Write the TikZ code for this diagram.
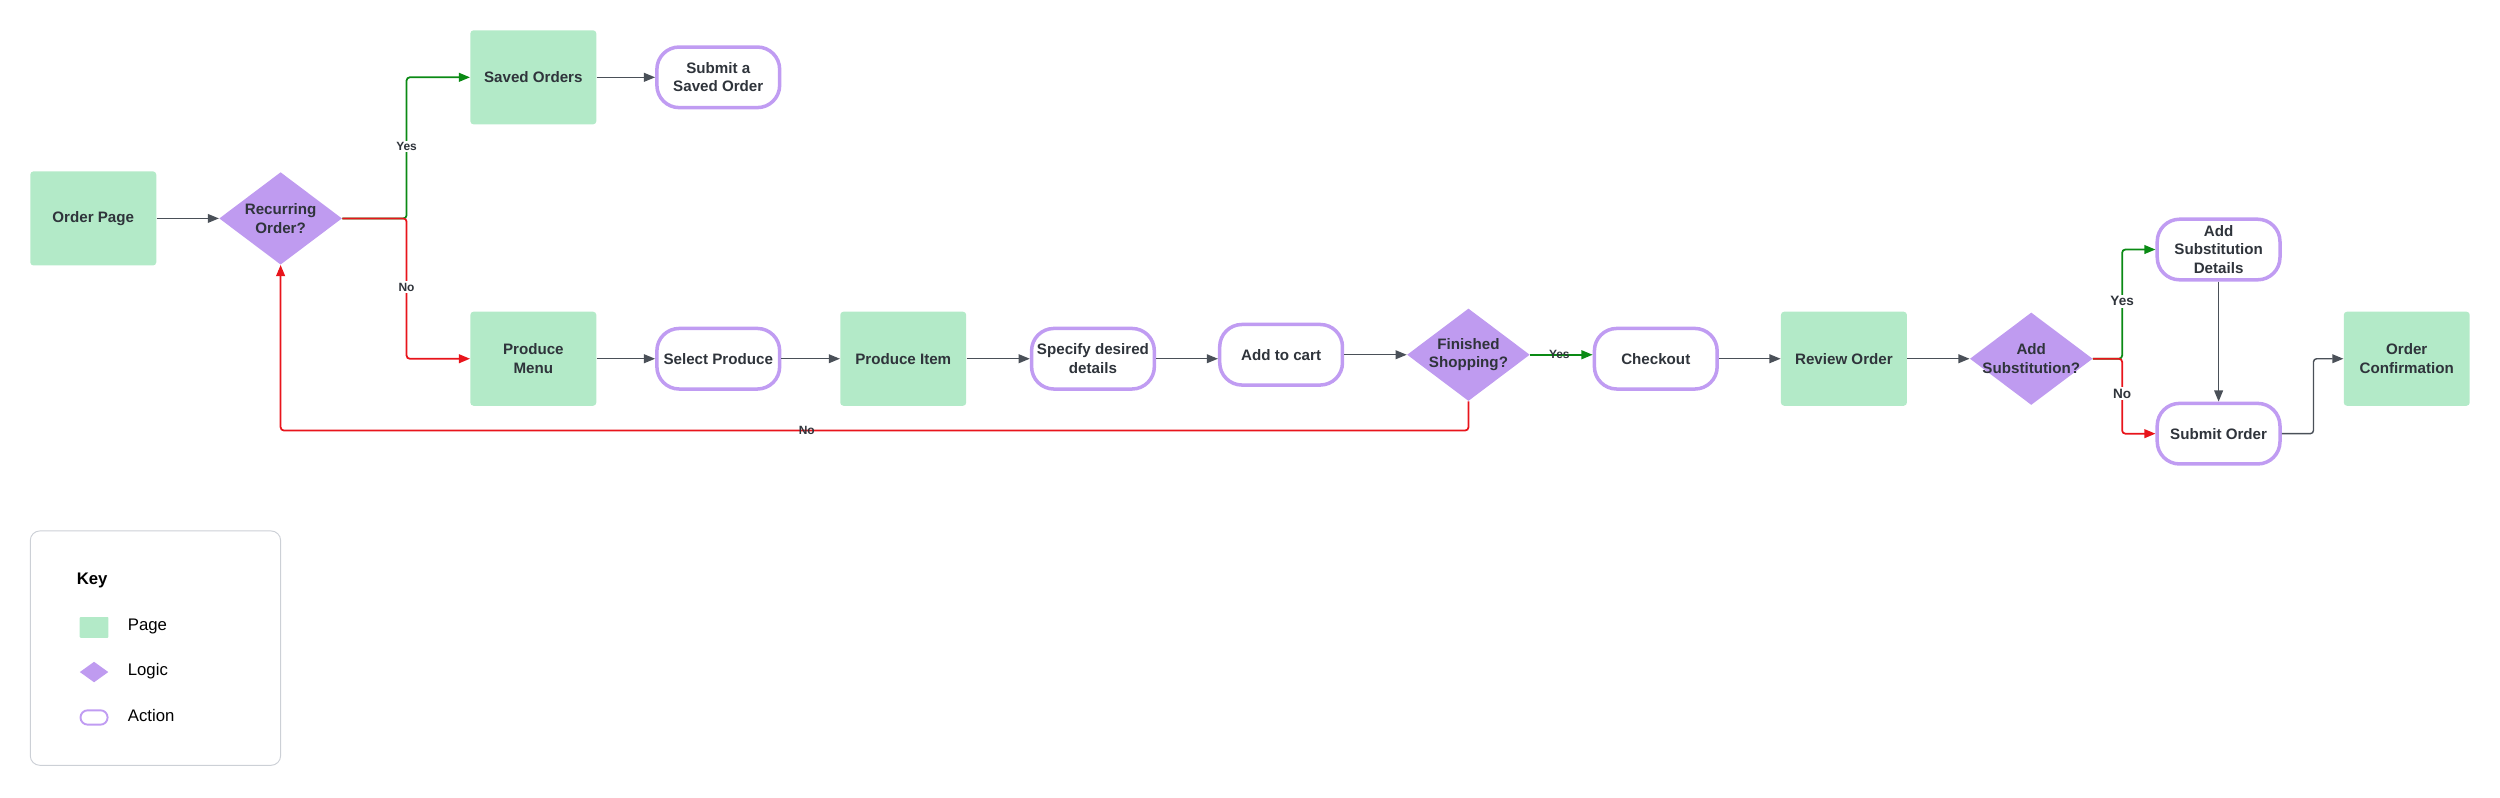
\documentclass[tikz,border=0pt]{standalone}
\usepackage{fontspec}
\setmainfont{Liberation Sans}
\usetikzlibrary{shapes.geometric,arrows.meta}
\definecolor{pagegreen}{HTML}{B3EAC8}
\definecolor{logicpurple}{HTML}{BF9BF0}
\definecolor{actpurple}{HTML}{C09CF2}
\definecolor{arrowgray}{HTML}{4A5058}
\definecolor{yesgreen}{HTML}{0A8A14}
\definecolor{nored}{HTML}{E8141B}
\definecolor{txt}{HTML}{2F343B}
\definecolor{keyborder}{HTML}{CCD0D6}
\tikzset{
  pagebox/.style={fill=pagegreen, rounded corners=2pt, minimum width=79pt, minimum height=59pt, inner sep=1pt, align=center, font=\bfseries\fontsize{9.5}{11.5}\selectfont, text=txt},
  logicbox/.style={diamond, fill=logicpurple, minimum width=77pt, minimum height=58pt, inner sep=0pt},
  logictext/.style={align=center, font=\bfseries\fontsize{9.5}{11.5}\selectfont, text=txt, inner sep=0pt},
  actbox/.style={draw=actpurple, line width=2.2pt, fill=white, rounded corners=14pt, minimum width=77pt, minimum height=38pt, inner sep=1pt, align=center, font=\bfseries\fontsize{9.5}{11.5}\selectfont, text=txt},
  flow/.style={draw=arrowgray, line width=0.9pt, -{Triangle[length=7pt,width=5.5pt]}, rounded corners=2pt},
  yesflow/.style={draw=yesgreen, line width=1.1pt, -{Triangle[length=7pt,width=5.5pt]}, rounded corners=2pt},
  noflow/.style={draw=nored, line width=1.1pt, -{Triangle[length=7pt,width=5.5pt]}, rounded corners=2pt},
  edgelabel/.style={fill=white, inner sep=1pt, font=\bfseries\fontsize{7.5}{8.5}\selectfont, text=txt},
  biglabel/.style={edgelabel, font=\bfseries\fontsize{8.5}{9.5}\selectfont},
  keytext/.style={anchor=west, font=\fontsize{10.5}{12}\selectfont, text=black, inner sep=0pt}
}
\begin{document}
\begin{tikzpicture}[x=1pt,y=-1pt]
\useasboundingbox (0,0) rectangle (1568,500);
% nodes
\node[pagebox] (order) at (58.5,137) {Order Page};
\node[logicbox] (rec) at (176,137) {};
\node[logictext] at (rec.center) {Recurring\\Order?};
\node[pagebox] (saved) at (334.5,48.5) {Saved Orders};
\node[actbox] (subsaved) at (450.5,48.5) {Submit a\\Saved Order};
\node[pagebox] (menu) at (334.5,225) {Produce\\Menu};
\node[actbox] (select) at (450.5,225) {Select Produce};
\node[pagebox] (item) at (566.5,225) {Produce Item};
\node[actbox] (spec) at (685.5,225) {Specify desired\\details};
\node[actbox] (cart) at (803.5,222.5) {Add to cart};
\node[logicbox] (fin) at (921,222.5) {};
\node[logictext] at (fin.center) {Finished\\Shopping?};
\node[actbox] (chk) at (1038.5,225) {Checkout};
\node[pagebox] (review) at (1156.5,225) {Review Order};
\node[logicbox] (sub) at (1274,225) {};
\node[logictext] at (sub.center) {Add\\Substitution?};
\node[actbox] (subdet) at (1391.5,156.5) {Add\\Substitution\\Details};
\node[actbox] (submit) at (1391.5,272) {Submit Order};
\node[pagebox] (conf) at (1509.5,225) {Order\\Confirmation};
% coordinates
\coordinate (b1) at (255,137);
\coordinate (b2) at (1331,225);
% connectors
\draw[flow] (order.east) -- (rec.west);
\draw[yesflow] (rec.east) -- (b1) -- (b1 |- saved.west) -- (saved.west);
\node[edgelabel] at (255,92) {Yes};
\draw[noflow] (rec.east) -- (b1) -- (b1 |- menu.west) -- (menu.west);
\node[edgelabel] at (255,180) {No};
\draw[flow] (saved.east) -- (subsaved.west);
\draw[flow] (menu.east) -- (select.west);
\draw[flow] (select.east) -- (item.west);
\draw[flow] (item.east) -- (spec.west);
\draw[flow] (spec.east) -- (spec.east -| cart.west);
\draw[flow] (cart.east) -- (fin.west);
\draw[yesflow] (fin.east) -- (fin.east -| chk.west);
\node[edgelabel, fill=none] at (978,222) {Yes};
\draw[noflow] (fin.south) -- (921,270) -- (176,270) -- (rec.south);
\node[edgelabel, fill=none] at (506,270) {No};
\draw[flow] (chk.east) -- (review.west);
\draw[flow] (review.east) -- (sub.west);
\draw[yesflow] (sub.east) -- (b2) -- (b2 |- subdet.west) -- (subdet.west);
\node[biglabel] at (1331,189) {Yes};
\draw[noflow] (sub.east) -- (b2) -- (b2 |- submit.west) -- (submit.west);
\node[biglabel] at (1331,247) {No};
\draw[flow] (subdet.south) -- (submit.north);
\draw[flow] (submit.east) -- (1451,272) -- (1451,225) -- (conf.west);
% key
\node[draw=keyborder, line width=0.6pt, rounded corners=6pt, minimum width=157pt, minimum height=147pt] (keybox) at (97.5,406.5) {};
\node[keytext, font=\bfseries\fontsize{10.5}{12}\selectfont] (keyt) at (48,364) {Key};
\node[fill=pagegreen, minimum width=18pt, minimum height=13pt, inner sep=0pt, rounded corners=0.5pt] (kpage) at (59,393.5) {};
\node[diamond, fill=logicpurple, minimum width=18pt, minimum height=13pt, inner sep=0pt] (klogic) at (59,421.5) {};
\node[draw=actpurple, line width=1.2pt, rounded corners=4.5pt, minimum width=17pt, minimum height=9pt, inner sep=0pt] (kact) at (59,450) {};
\node[keytext] at (80,393) {Page};
\node[keytext] at (80,421) {Logic};
\node[keytext] at (80,449) {Action};
\end{tikzpicture}
\end{document}
